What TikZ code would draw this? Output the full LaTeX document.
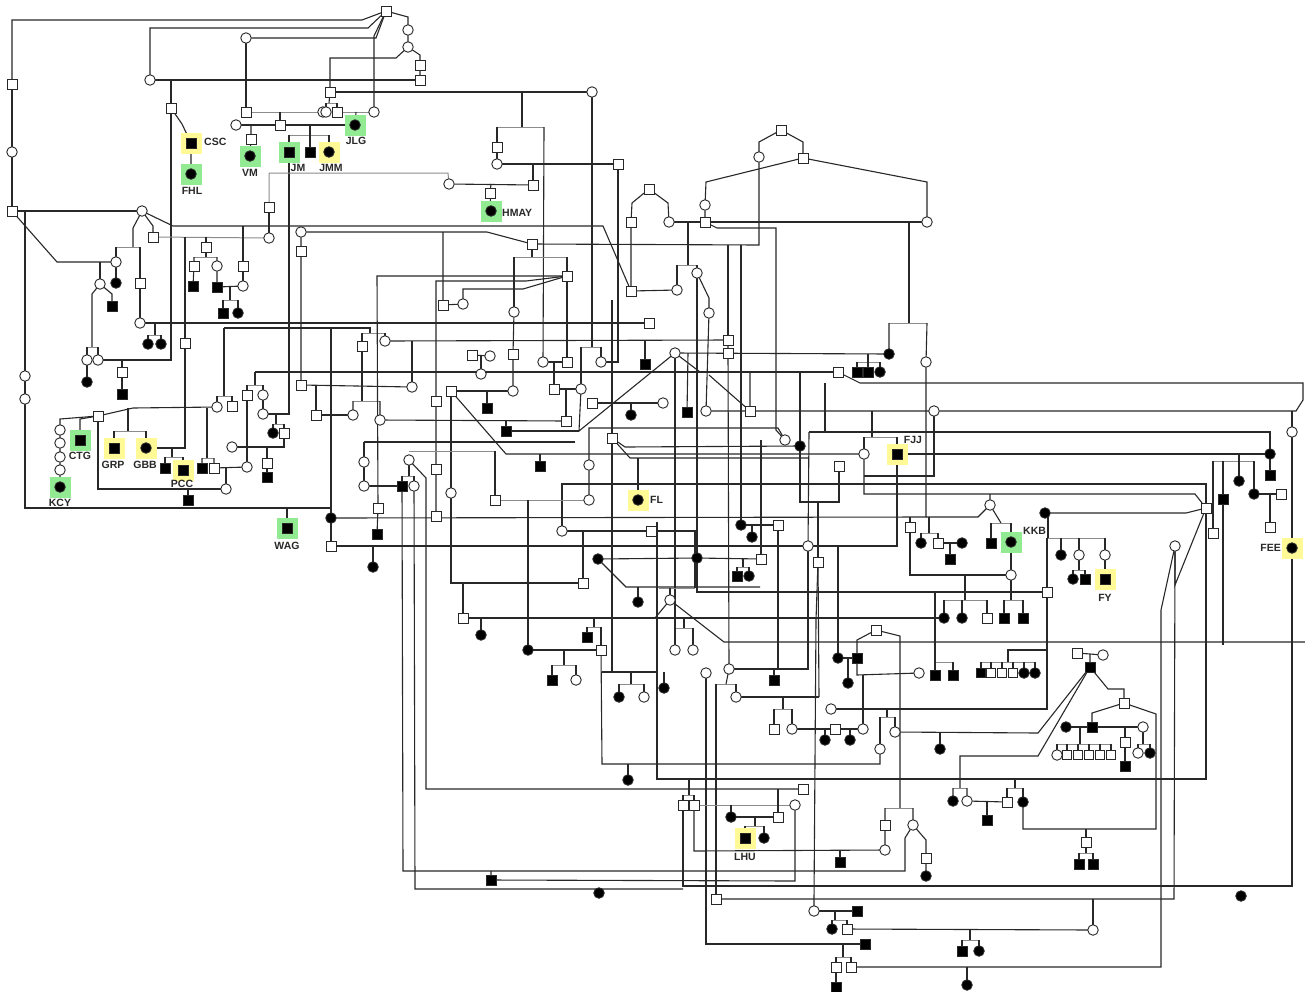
\documentclass[tikz,border=0pt]{standalone}
\usepackage{fontspec}
\newfontfamily\labfont{Liberation Sans}
\pgfdeclarelayer{back}
\pgfdeclarelayer{bg}
\pgfsetlayers{back,bg,main}
\definecolor{hly}{RGB}{255,249,150}
\definecolor{hlg}{RGB}{146,235,146}
\definecolor{ink}{RGB}{40,40,40}
\tikzset{
 ln/.style={line width=1.1pt, draw=ink},
 gl/.style={line width=1pt, draw=black!45},
 sym/.style={draw=ink, line width=0.9pt, fill=white, inner sep=0pt, outer sep=0pt},
 msq/.style={sym, rectangle, minimum size=10pt},
 msqa/.style={msq, fill=black},
 fci/.style={sym, circle, minimum size=10.5pt},
 fcia/.style={fci, fill=black},
 smsq/.style={msq, minimum size=9pt},
 hbox/.style={rectangle, minimum size=21pt, inner sep=0pt, draw=none},
 lbl/.style={font=\labfont\bfseries\fontsize{10.5}{12}\selectfont, text=ink, inner sep=0pt},
}
\newcommand\pM[3]{\node[msq] (#1) at (#2,#3) {};}
\newcommand\pMa[3]{\node[msqa] (#1) at (#2,#3) {};}
\newcommand\pF[3]{\node[fci] (#1) at (#2,#3) {};}
\newcommand\pFa[3]{\node[fcia] (#1) at (#2,#3) {};}
\newcommand\pHY[3]{\node[hbox,fill=hly] (h#1) at (#2,#3) {};}
\newcommand\pHG[3]{\node[hbox,fill=hlg] (h#1) at (#2,#3) {};}
\begin{document}
\begin{tikzpicture}[x=1pt,y=-1pt]
\useasboundingbox (0,0) rectangle (1305,991);
\begin{pgfonlayer}{back}
\fill[white] (0,0) rectangle (1305,991);
\end{pgfonlayer}
% ---------- highlight boxes ----------
\pHY{CSC}{191}{143} \pHG{FHL}{191}{174} \pHG{VM}{250}{156} \pHG{JM}{289}{152}
\pHY{JMM}{329}{152} \pHG{JLG}{355}{125} \pHG{HMAY}{491}{211} \pHG{KCY}{60}{487}
\pHG{CTG}{80}{440} \pHY{GRP}{114}{448} \pHY{GBB}{146}{448} \pHY{PCC}{183}{470}
\pHG{WAG}{287}{528} \pHY{FL}{638}{500} \pHY{FJJ}{897}{454} \pHG{KKB}{1011}{542}
\pHY{FY}{1105}{579} \pHY{FEE}{1292}{548} \pHY{LHU}{745}{838}
% ---------- individuals ----------
\pM{T0}{386}{11} \pF{f1}{408}{30} \pF{f2}{408}{47} \pM{s1}{420}{65} \pM{s2}{420}{80}
\pM{L1}{12}{84} \pF{L2}{12}{152} \pM{L3}{12}{211}
\pF{c150}{150}{80} \pF{c246}{246}{38} \pM{s171}{171}{108}
\pMa{CSC}{191}{143} \pFa{FHL}{191}{174}
\pM{s246}{246}{112} \pF{c323}{323}{112} \pF{c236}{236}{125} \pM{s280}{280}{125}
\pM{s251}{251}{139} \pFa{VM}{250}{156} \pMa{JM}{289}{152} \pMa{jm2}{310}{152} \pFa{JMM}{329}{152}
\pM{s330}{330}{92} \pF{c326}{326}{112} \pM{s337}{337}{112} \pF{c374}{374}{112} \pFa{JLG}{355}{125}
\pM{s269}{269}{207} \pF{c269}{269}{238} \pF{c142}{142}{211} \pM{s153}{153}{237}
\pF{c116}{116}{262} \pFa{fa116}{116}{283} \pM{s140}{140}{283} \pF{c100}{100}{284}
\pMa{ma112}{112}{306} \pF{c140}{140}{323}
\pM{s206}{206}{247} \pM{s194}{194}{266} \pF{c217}{217}{266} \pMa{ma193}{193}{286}
\pMa{ma217}{217}{287} \pM{s243}{243}{266} \pF{c243}{243}{286} \pMa{ma223}{223}{313} \pFa{fa238}{238}{313}
\pM{s185}{185}{343} \pFa{fa148}{148}{344} \pFa{fa161}{161}{344}
\pF{c87}{87}{360} \pF{c98}{98}{360} \pFa{fa87}{87}{382} \pM{s122}{122}{372} \pMa{ma122}{122}{394}
\pF{c25a}{25}{376} \pF{c25b}{25}{399}
\pF{c60a}{60}{430} \pF{c60b}{60}{443} \pF{c60c}{60}{457} \pF{c60d}{60}{470} \pFa{KCY}{60}{487}
\pM{s98}{98}{416} \pMa{CTG}{80}{440} \pMa{GRP}{114}{448} \pFa{GBB}{146}{448}
\pMa{ma165}{165}{468} \pMa{PCC}{183}{470} \pMa{ma188}{188}{500}
\pMa{ma202}{202}{468} \pM{s214}{214}{468} \pF{c247}{247}{467} \pF{c226}{226}{489}
\pF{c217b}{217}{407} \pM{s232}{232}{406} \pM{s247}{247}{395} \pF{c263a}{263}{395} \pF{c263b}{263}{414}
\pFa{fa273}{273}{433} \pM{s284}{284}{433} \pF{c232}{232}{447} \pM{s267}{267}{463} \pMa{ma267}{267}{477}
\pM{s301}{301}{385} \pM{s316}{316}{415} \pF{c301}{301}{232} \pM{s301b}{301}{251}
\pMa{WAG}{287}{528}
% top middle
\pF{c592}{592}{92} \pM{s497}{497}{147} \pF{c497}{497}{164} \pM{s618}{618}{164}
\pF{c449}{449}{184} \pM{s533}{533}{185} \pM{s490}{490}{193} \pFa{HMAY}{491}{211}
\pM{s649}{649}{189} \pM{s631}{631}{222} \pM{s532}{532}{244} \pM{s567}{567}{276}
\pM{s443}{443}{305} \pF{c463}{463}{304} \pF{c514}{514}{312} \pM{s631b}{631}{291} \pM{s649b}{649}{323}
% top right
\pM{s781}{781}{130} \pF{c759}{759}{157} \pM{s803}{803}{158} \pF{c705}{705}{205} \pM{s705}{705}{222}
\pF{c669}{669}{222} \pF{c927}{927}{222} \pF{c697}{697}{273} \pF{c677}{677}{290} \pF{c709}{709}{313}
% centre
\pM{s728a}{728}{340} \pM{s728b}{728}{353} \pF{c675}{675}{353} \pFa{fa889}{889}{354} \pF{c926}{926}{362}
\pM{s838}{838}{372} \pMa{ma857}{857}{372} \pMa{ma868}{868}{372} \pFa{fa880}{880}{372}
\pF{c663}{663}{403} \pMa{ma687}{687}{412} \pF{c706}{706}{411} \pM{s750}{750}{411} \pF{c934}{934}{411}
\pF{c785}{785}{440} \pFa{fa800}{800}{446} \pMa{FJJ}{897}{454} \pF{c864}{864}{454} \pM{s839}{839}{466}
\pFa{fa741}{741}{525} \pFa{fa752}{752}{537} \pM{s778}{778}{525} \pF{c808}{808}{546} \pM{s818}{818}{562}
\pFa{fa697}{697}{558} \pM{s761}{761}{559} \pMa{ma737}{737}{576} \pFa{fa749}{749}{576}
\pM{s910}{910}{527} \pFa{fa921}{921}{543} \pM{s938}{938}{543} \pFa{fa962}{962}{543} \pMa{ma950}{950}{559}
\pF{c670}{670}{600} \pFa{fa944}{944}{618} \pFa{fa962b}{962}{618} \pF{c675b}{675}{650} \pF{c693}{693}{650}
\pM{s876}{876}{630} \pFa{fa838}{838}{658} \pMa{ma857b}{857}{658}
\pM{s362}{362}{346} \pF{c385}{385}{341} \pM{s472}{472}{355} \pF{c490}{490}{356} \pF{c481}{481}{374}
\pM{s513}{513}{354} \pF{c543}{543}{362} \pM{s567b}{567}{362} \pF{c601}{601}{362} \pMa{ma645}{645}{364}
\pF{c412}{412}{387} \pM{s451}{451}{391} \pF{c513}{513}{391} \pM{s554}{554}{389} \pF{c581}{581}{389}
\pMa{ma487}{487}{408} \pM{s436}{436}{401} \pM{s592}{592}{403} \pFa{fa631}{631}{415}
\pF{c353}{353}{415} \pF{c380}{380}{420} \pM{s566}{566}{421} \pMa{ma506}{506}{431} \pMa{ma540}{540}{466}
\pM{s612}{612}{438} \pF{c364a}{364}{462} \pF{c409}{409}{460} \pM{s436b}{436}{469} \pF{c589a}{589}{465}
\pF{c364b}{364}{486} \pMa{ma402}{402}{486} \pF{c414}{414}{486} \pF{c451}{451}{493}
\pFa{FL}{638}{500} \pM{s495}{495}{500} \pF{c589b}{589}{500} \pM{s378}{378}{508} \pFa{fa331}{331}{518}
\pM{s436c}{436}{516} \pMa{ma377}{377}{534} \pM{s331}{331}{546} \pFa{fa373}{373}{567}
\pF{c562}{562}{531} \pM{s651}{651}{531} \pFa{fa598}{598}{559} \pM{s583}{583}{583} \pFa{fa638}{638}{602}
\pM{s463}{463}{618} \pFa{fa481}{481}{635} \pMa{ma587}{587}{637} \pFa{fa528}{528}{650} \pM{s601}{601}{650}
% right
\pF{c1292}{1292}{432} \pFa{FEE}{1292}{548} \pFa{fa1270}{1270}{454} \pMa{ma1270}{1270}{475}
\pFa{fa1239}{1239}{481} \pFa{fa1254}{1254}{494} \pM{s1281}{1281}{494} \pM{s1270}{1270}{527}
\pMa{ma1223}{1223}{499} \pM{s1213}{1213}{533} \pM{s1206}{1206}{508}
\pF{c990}{990}{505} \pMa{ma991}{991}{543} \pFa{KKB}{1011}{542} \pFa{fa1045}{1045}{513}
\pFa{fa1061}{1061}{555} \pF{c1079}{1079}{555} \pF{c1105}{1105}{555} \pFa{fa1073}{1073}{579}
\pMa{ma1085}{1085}{579} \pMa{FY}{1105}{579} \pF{c1011}{1011}{575} \pM{s1047}{1047}{592} \pF{c1175}{1175}{546}
\pM{s987}{987}{618} \pMa{ma1004}{1004}{618} \pMa{ma1023}{1023}{618} \pM{s1077}{1077}{653} \pF{c1103}{1103}{655}
% lower right
\node[smsq,fill=black] (r1) at (981,673) {}; \node[smsq] (r2) at (991,673) {}; \node[smsq] (r3) at (1002,673) {};
\node[smsq] (r4) at (1013,673) {}; \pFa{r5}{1024}{673} \pFa{r6}{1035}{673}
\pMa{ma1090}{1090}{667} \pM{s1124}{1124}{703} \pFa{fa1066}{1066}{727} \pMa{ma1092}{1092}{727} \pF{c1143}{1143}{727}
\pM{s1125}{1125}{742} \pMa{ma1125}{1125}{766} \pF{c1138}{1138}{753} \pFa{fa1150}{1150}{753}
\pF{c1057}{1057}{755} \node[smsq] (q1) at (1067,755) {}; \node[smsq] (q2) at (1078,755) {};
\node[smsq] (q3) at (1089,755) {}; \node[smsq] (q4) at (1100,755) {}; \node[smsq] (q5) at (1111,755) {};
\pM{s1007}{1007}{802} \pFa{fa1023}{1023}{802} \pMa{ma987}{987}{820} \pM{s1086}{1086}{842}
\pMa{ma1079}{1079}{864} \pMa{ma1093}{1093}{864} \pFa{fa1241}{1241}{896} \pF{c1093}{1093}{930}
% lower middle
\pF{c706b}{706}{673} \pF{c729}{729}{669} \pMa{ma774}{774}{680} \pF{c736}{736}{697} \pFa{fa664}{664}{688}
\pFa{fa848}{848}{683} \pF{c831}{831}{709} \pF{c919}{919}{673} \pMa{ma935}{935}{675} \pMa{ma953}{953}{675}
\pM{s774}{774}{729} \pF{c792}{792}{729} \pM{s835}{835}{729} \pFa{fa825}{825}{740} \pFa{fa850}{850}{740}
\pF{c863}{863}{729} \pF{c895}{895}{732} \pF{c880}{880}{749} \pFa{fa940}{940}{749}
\pM{s803b}{803}{789} \pM{s683}{683}{805} \pM{s694}{694}{805} \pF{c795}{795}{805}
\pFa{fa731}{731}{817} \pM{s778b}{778}{817} \pMa{LHU}{745}{838} \pFa{fa764}{764}{838}
\pM{s885}{885}{825} \pF{c913}{913}{825} \pF{c885}{885}{850} \pMa{ma840}{840}{862} \pM{s926}{926}{858} \pFa{fa926}{926}{876}
\pFa{fa953}{953}{801} \pF{c967}{967}{801} \pM{s716}{716}{899}
\pF{c814}{814}{911} \pMa{ma857c}{857}{911} \pFa{fa832}{832}{929} \pM{s847}{847}{929} \pMa{ma865}{865}{944}
\pM{s836}{836}{967} \pM{s851}{851}{967} \pMa{ma836}{836}{987} \pMa{ma962}{962}{951} \pFa{fa979}{979}{951} \pFa{fa967}{967}{985}
\pMa{ma552}{552}{680} \pF{c576}{576}{680} \pFa{fa619}{619}{697} \pF{c644}{644}{697} \pFa{fa628}{628}{780}
\pMa{ma491}{491}{880} \pFa{fa599}{599}{893}
% ---------- labels ----------
\node[lbl,anchor=west] (tCSC) at (204,142) {CSC};
\node[lbl] (tFHL) at (192,191) {FHL};
\node[lbl] (tVM) at (250,173) {VM};
\node[lbl] (tJM) at (298,168) {JM};
\node[lbl] (tJMM) at (331,168) {JMM};
\node[lbl] (tJLG) at (356,141) {JLG};
\node[lbl,anchor=west] (tHMAY) at (502,213) {HMAY};
\node[lbl] (tCTG) at (80,456) {CTG};
\node[lbl] (tGRP) at (113,465) {GRP};
\node[lbl] (tGBB) at (145,465) {GBB};
\node[lbl] (tPCC) at (182,484) {PCC};
\node[lbl] (tKCY) at (60,503) {KCY};
\node[lbl] (tWAG) at (287,546) {WAG};
\node[lbl,anchor=west] (tFL) at (650,500) {FL};
\node[lbl] (tFJJ) at (913,440) {FJJ};
\node[lbl,anchor=west] (tKKB) at (1023,531) {KKB};
\node[lbl] (tFY) at (1105,598) {FY};
\node[lbl,anchor=east] (tFEE) at (1281,548) {FEE};
\node[lbl] (tLHU) at (745,857) {LHU};
% ---------- connectors ----------
\begin{pgfonlayer}{bg}
\draw[ln] (L1) -- (12,20) -- (362,20) -- (T0);
\draw[ln] (L1) -- (L2) -- (L3);
\draw[ln] (c150) -- (150,28) -- (368,28) -- (T0);
\draw[ln] (c246) -- (376,38) -- (T0);
\draw[ln] (T0) -- (374,36) -- (c374);
\draw[ln] (T0) -- (408,17) -- (f1) -- (f2);
\draw[ln] (f2) -- (396,58) -- (330,58) -- (s330);
\draw[ln] (f2) -- (420,55) -- (s1) -- (s2);
\draw[ln] (c150) -- (s2);
\draw[ln] (171,80) -- (s171) -- (171,360) -- (c98);
\draw[ln] (s171) -- (182,124) -- (CSC) -- (FHL);
\draw[ln] (c246) -- (s246);
\draw[gl] (s246) -- (c323);
\draw[ln] (280,112) -- (s280);
\draw[ln] (c236) -- (JLG);
\draw[ln] (251,125) -- (s251) -- (VM);
\draw[ln] (310,125) -- (310,135);
\draw[gl] (289,135) -- (329,135);
\draw[ln] (289,135) -- (JM) (310,135) -- (jm2) (329,135) -- (JMM);
\draw[ln] (s330) -- (329,103);
\draw[gl] (326,103) -- (337,103);
\draw[ln] (326,103) -- (c326) (337,103) -- (s337);
\draw[gl] (s337) -- (c374);
\draw[ln] (356,112) -- (JLG);
\draw[ln] (s330) -- (c592);
\draw[ln] (JM) -- (289,414) -- (c263b);
\draw[gl] (s269) -- (269,173) -- (448,173) -- (c449);
\draw[ln] (s269) -- (c269);
\draw[gl] (s153) -- (c269);
\draw[ln] (L3) -- (c142);
\draw[ln] (c142) -- (173,226) -- (603,226) -- (s631b);
\draw[ln] (c142) -- (153,226) -- (s153);
\draw[ln] (L3) -- (57,262) -- (c116);
\draw[ln] (c142) -- (133,228) -- (133,247);
\draw[gl] (116,247) -- (140,247);
\draw[ln] (116,247) -- (c116) (140,247) -- (s140) -- (c140);
\draw[ln] (c116) -- (fa116);
\draw[ln] (100,262) -- (c100);
\draw[ln] (c100) -- (112,294) -- (ma112);
\draw[ln] (c100) -- (92,294) -- (92,347);
\draw[gl] (87,347) -- (98,347);
\draw[ln] (87,347) -- (c87) -- (fa87) (98,347) -- (c98);
\draw[ln] (122,360) -- (s122) -- (ma122);
\draw[ln] (c140) -- (s649b);
\draw[ln] (155,323) -- (155,335);
\draw[gl] (148,335) -- (161,335);
\draw[ln] (148,335) -- (fa148) (161,335) -- (fa161);
\draw[ln] (185,237) -- (s185) -- (185,448) -- (GBB);
\draw[ln] (206,237) -- (s206) -- (206,257);
\draw[gl] (194,257) -- (217,257);
\draw[ln] (194,257) -- (s194) -- (ma193) (217,257) -- (c217) -- (ma217) -- (c243);
\draw[ln] (243,226) -- (s243) -- (c243);
\draw[ln] (230,287) -- (230,300);
\draw[gl] (223,300) -- (238,300);
\draw[ln] (223,300) -- (ma223) (238,300) -- (fa238);
\draw[ln] (25,211) -- (c25a) -- (c25b) -- (25,508) -- (331,508) -- (fa331);
\draw[ln] (331,328) -- (fa331);
\draw[ln] (287,508) -- (WAG);
\draw[ln] (s98) -- (60,419) -- (c60a) -- (c60b) -- (c60c) -- (c60d) -- (KCY);
\draw[ln] (s98) -- (80,419) -- (CTG);
\draw[ln] (s98) -- (133,408) -- (c217b);
\draw[ln] (128,408) -- (128,431);
\draw[gl] (114,431) -- (146,431);
\draw[ln] (114,431) -- (GRP) (146,431) -- (GBB);
\draw[ln] (s98) -- (98,489) -- (c226);
\draw[ln] (207,408) -- (207,458);
\draw[gl] (202,458) -- (214,458);
\draw[ln] (202,458) -- (ma202) (214,458) -- (s214) -- (c247);
\draw[ln] (226,468) -- (c226);
\draw[ln] (172,448) -- (172,457);
\draw[gl] (165,457) -- (183,457);
\draw[ln] (165,457) -- (ma165) (183,457) -- (PCC);
\draw[ln] (188,489) -- (ma188);
\draw[ln] (224,328) -- (370,328) -- (370,333);
\draw[ln] (224,328) -- (224,396);
\draw[gl] (217,396) -- (232,396);
\draw[ln] (217,396) -- (c217b) (232,396) -- (s232);
\draw[gl] (362,333) -- (385,333);
\draw[ln] (362,333) -- (s362) (385,333) -- (c385);
\draw[ln] (255,372) -- (s838);
\draw[ln] (255,372) -- (255,385);
\draw[gl] (247,385) -- (263,385);
\draw[ln] (247,385) -- (s247) -- (c247) (263,385) -- (c263a) -- (c263b);
\draw[ln] (276,414) -- (276,424);
\draw[gl] (273,424) -- (284,424);
\draw[ln] (273,424) -- (fa273) (284,424) -- (s284) -- (284,447) -- (c232);
\draw[ln] (267,447) -- (s267) -- (ma267);
\draw[ln] (c301) -- (s301b) -- (s301) -- (c412);
\draw[ln] (c301) -- (487,232) -- (s532);
\draw[ln] (c385) -- (s728a);
\draw[ln] (412,341) -- (c412);
\draw[ln] (316,385) -- (s316) -- (c353);
\draw[ln] (s362) -- (362,401);
\draw[gl] (353,401) -- (380,401);
\draw[ln] (353,401) -- (c353) (380,401) -- (c380) -- (s566);
% top middle
\draw[ln] (522,92) -- (522,127);
\draw[gl] (497,127) -- (544,127);
\draw[ln] (497,127) -- (s497) -- (c497) -- (s618);
\draw[ln] (544,127) -- (c543);
\draw[ln] (c449) -- (s533);
\draw[ln] (533,164) -- (s533);
\draw[ln] (491,184) -- (s490) -- (HMAY);
\draw[ln] (c592) -- (592,347);
\draw[gl] (581,347) -- (601,347);
\draw[ln] (581,347) -- (c581) (601,347) -- (c601);
\draw[ln] (s618) -- (618,362) -- (c601);
\draw[ln] (s649) -- (632,203) -- (s631) -- (s631b) -- (c677);
\draw[ln] (s649) -- (668,203) -- (c669);
\draw[ln] (s532) -- (759,245) -- (c759);
\draw[ln] (728,245) -- (s728a);
\draw[ln] (s532) -- (532,257);
\draw[gl] (514,257) -- (567,257);
\draw[ln] (514,257) -- (c514) (567,257) -- (s567);
\draw[ln] (s567) -- (523,289) -- (463,289) -- (c463);
\draw[ln] (s567) -- (526,281) -- (436,281) -- (s436) -- (s436b) -- (s436c);
\draw[ln] (s567) -- (377,276) -- (s378) -- (ma377);
\draw[ln] (s567) -- (s567b);
\draw[ln] (443,232) -- (s443) -- (c463);
\draw[ln] (c514) -- (s513) -- (c513);
% top right
\draw[ln] (s781) -- (759,142) -- (c759);
\draw[ln] (s781) -- (803,142) -- (s803);
\draw[ln] (s803) -- (706,182) -- (c705) -- (s705);
\draw[ln] (s803) -- (927,182) -- (c927);
\draw[ln] (c669) -- (s705) -- (c927);
\draw[ln] (s705) -- (717,228) -- (776,228) -- (776,430) -- (c785);
\draw[ln] (688,222) -- (688,265);
\draw[gl] (677,265) -- (697,265);
\draw[ln] (677,265) -- (c677) (697,265) -- (c697) -- (fa697);
\draw[ln] (c697) -- (709,298) -- (c709) -- (c706);
\draw[ln] (909,222) -- (909,323);
\draw[gl] (889,323) -- (927,323);
\draw[ln] (889,323) -- (fa889) (927,323) -- (c926);
\draw[ln] (c675) -- (fa889);
\draw[ln] (s728a) -- (s728b) -- (c729);
\draw[ln] (c675) -- (579,431) -- (c581);
\draw[ln] (ma506) -- (579,431);
\draw[ln] (c675) -- (700,372) -- (750,372) -- (s750);
\draw[ln] (c675) -- (675,628);
\draw[ln] (688,353) -- (ma687);
\draw[ln] (c706) -- (c934) -- (1296,411) -- (1303,400) -- (1303,383) -- (860,383) -- (s838);
\draw[ln] (709,375) -- (s750);
\draw[ln] (s592) -- (c663);
\draw[ln] (868,354) -- (868,362);
\draw[gl] (857,362) -- (880,362);
\draw[ln] (857,362) -- (ma857) (868,362) -- (ma868) (880,362) -- (fa880);
\draw[ln] (fa331) -- (926,517) -- (c926);
\draw[ln] (926,517) -- (978,517) -- (c990);
\draw[ln] (809,432) -- (1270,432) -- (fa1270);
\draw[ln] (809,432) -- (c808);
\draw[ln] (c785) -- (778,428) -- (589,428) -- (c589a) -- (c589b);
\draw[ln] (825,383) -- (825,432);
\draw[ln] (800,372) -- (fa800) -- (800,502) -- (839,502) -- (s839);
\draw[ln] (818,502) -- (s818);
\draw[ln] (872,411) -- (872,437);
\draw[gl] (864,437) -- (897,437);
\draw[ln] (864,437) -- (c864) (897,437) -- (FJJ);
\draw[ln] (c934) -- (934,476) -- (864,476);
\draw[ln] (s451) -- (506,454) -- (c864);
\draw[ln] (FJJ) -- (fa1270);
\draw[ln] (c864) -- (864,494) -- (1195,494) -- (s1206);
\draw[ln] (FJJ) -- (897,546) -- (c808) -- (s331);
\draw[ln] (838,546) -- (fa838);
\draw[ln] (fa1045) -- (1186,513) -- (s1206);
\draw[ln] (c562) -- (562,484) -- (1206,484) -- (s1206);
\draw[ln] (910,517) -- (s910) -- (910,575) -- (c1011);
\draw[ln] (c1011) -- (1011,600);
\draw[gl] (1004,600) -- (1023,600);
\draw[ln] (1004,600) -- (ma1004) (1023,600) -- (ma1023);
\draw[ln] (965,575) -- (965,600);
\draw[gl] (944,600) -- (987,600);
\draw[ln] (944,600) -- (fa944) (962,600) -- (fa962b) (987,600) -- (s987);
\draw[ln] (929,517) -- (929,533);
\draw[gl] (921,533) -- (938,533);
\draw[ln] (921,533) -- (fa921) (938,533) -- (s938);
\draw[ln] (s938) -- (fa962) (950,543) -- (ma950);
\draw[ln] (990,494) -- (c990) -- (1001,523);
\draw[gl] (991,523) -- (1011,523);
\draw[ln] (991,523) -- (ma991) (1011,523) -- (KKB) -- (c1011);
\draw[ln] (1048,513) -- (1048,538);
\draw[gl] (1047,538) -- (1105,538);
\draw[ln] (1061,538) -- (fa1061) (1079,538) -- (c1079) (1105,538) -- (c1105) -- (FY);
\draw[ln] (1047,538) -- (s1047);
\draw[ln] (c1079) -- (1079,570);
\draw[gl] (1073,570) -- (1085,570);
\draw[ln] (1073,570) -- (fa1073) (1085,570) -- (ma1085);
\draw[ln] (fa697) -- (697,592) -- (s1047);
\draw[ln] (fa598) -- (fa697) -- (s761);
\draw[ln] (743,559) -- (743,567);
\draw[gl] (737,567) -- (749,567);
\draw[ln] (737,567) -- (ma737) (749,567) -- (fa749);
\draw[ln] (s1047) -- (1047,709) -- (c831);
\draw[ln] (c670) -- (724,642) -- (1305,642);
\draw[ln] (1239,454) -- (1239,461);
\draw[gl] (1213,461) -- (1254,461);
\draw[ln] (1213,461) -- (s1213) (1223,461) -- (ma1223) (1239,461) -- (fa1239) (1254,461) -- (fa1254) -- (s1281);
\draw[ln] (1270,494) -- (s1270);
\draw[ln] (fa1270) -- (ma1270);
\draw[ln] (1292,411) -- (c1292) -- (FEE) -- (1292,886) -- (683,886) -- (s683);
\draw[ln] (ma1223) -- (1223,645);
\draw[ln] (s1206) -- (1206,779) -- (657,779) -- (657,522);
\draw[ln] (c1175) -- (1175,585) -- (s1206);
\draw[ln] (c1175) -- (1161,610) -- (1161,967) -- (s851);
\draw[ln] (c1175) -- (1174,899) -- (s716);
\draw[ln] (c1093) -- (1093,899);
\draw[ln] (s847) -- (c1093);
\draw[ln] (c814) -- (ma857c);
\draw[ln] (835,911) -- (835,920);
\draw[gl] (832,920) -- (847,920);
\draw[ln] (832,920) -- (fa832) (847,920) -- (s847);
\draw[ln] (c706b) -- (706,944) -- (ma865);
\draw[ln] (843,944) -- (843,957);
\draw[gl] (836,957) -- (851,957);
\draw[ln] (836,957) -- (s836) -- (ma836) (851,957) -- (s851);
\draw[ln] (970,929) -- (970,940);
\draw[gl] (962,940) -- (979,940);
\draw[ln] (962,940) -- (ma962) (979,940) -- (fa979);
\draw[ln] (967,967) -- (fa967);
\draw[ln] (s818) -- (816,620) -- (814,900) -- (c814);
\draw[ln] (s818) -- (819,697);
\draw[ln] (c808) -- (808,669) -- (c729);
\draw[gl] (716,684) -- (736,684);
\draw[ln] (c729) -- (726,684);
\draw[ln] (716,684) -- (s716) (736,684) -- (c736) -- (819,697);
\draw[ln] (774,669) -- (ma774);
\draw[ln] (783,697) -- (783,709);
\draw[gl] (774,709) -- (792,709);
\draw[ln] (774,709) -- (s774) (792,709) -- (c792) -- (s835) -- (c863);
\draw[ln] (825,729) -- (fa825) (850,729) -- (fa850);
\draw[ln] (fa838) -- (ma857b);
\draw[ln] (848,658) -- (fa848);
\draw[ln] (ma857b) -- (857,675) -- (c919);
\draw[ln] (863,675) -- (c863);
\draw[ln] (935,592) -- (935,662);
\draw[gl] (935,662) -- (953,662);
\draw[ln] (935,662) -- (ma935) (953,662) -- (ma953);
\draw[ln] (s876) -- (857,640) -- (ma857b);
\draw[ln] (s876) -- (900,636) -- (900,808);
\draw[ln] (887,709) -- (887,717);
\draw[gl] (880,717) -- (895,717);
\draw[ln] (880,717) -- (c880) (895,717) -- (c895);
\draw[ln] (c895) -- (1038,733) -- (ma1090);
\draw[ln] (940,733) -- (fa940);
\draw[ln] (c880) -- (880,764) -- (602,764) -- (s601);
\draw[ln] (628,764) -- (fa628);
\draw[ln] (960,788) -- (960,756) -- (1038,756) -- (ma1090);
\draw[gl] (953,788) -- (967,788);
\draw[ln] (953,788) -- (fa953) (967,788) -- (c967) -- (s1007);
\draw[ln] (987,802) -- (ma987);
\draw[ln] (1015,779) -- (1015,788);
\draw[gl] (1007,788) -- (1023,788);
\draw[ln] (1007,788) -- (s1007) (1023,788) -- (fa1023);
\draw[ln] (fa1023) -- (1023,829) -- (1156,829) -- (1156,714) -- (s1124);
\draw[ln] (1086,829) -- (s1086) -- (1086,853);
\draw[gl] (1079,853) -- (1093,853);
\draw[ln] (1079,853) -- (ma1079) (1093,853) -- (ma1093);
\draw[ln] (s1077) -- (c1103);
\draw[ln] (1090,654) -- (ma1090) -- (1108,689) -- (1124,689) -- (s1124) -- (1092,713) -- (ma1092);
\draw[ln] (fa1066) -- (ma1092) -- (c1143);
\draw[ln] (1080,727) -- (1080,744);
\draw[gl] (1057,744) -- (1111,744);
\draw[ln] (1057,744) -- (c1057) (1067,744) -- (q1) (1078,744) -- (q2) (1089,744) -- (q3) (1100,744) -- (q4) (1111,744) -- (q5);
\draw[ln] (1125,727) -- (s1125) -- (ma1125);
\draw[ln] (c1143) -- (1143,744);
\draw[gl] (1138,744) -- (1150,744);
\draw[ln] (1138,744) -- (c1138) (1150,744) -- (fa1150);
\draw[gl] (981,662) -- (1035,662);
\draw[ln] (981,662) -- (r1) (991,662) -- (r2) (1002,662) -- (r3) (1013,662) -- (r4) (1024,662) -- (r5) (1035,662) -- (r6);
\draw[ln] (1008,662) -- (1008,650) -- (1047,650);
\draw[ln] (ma402) -- (403,871) -- (905,871) -- (905,838) -- (c913);
\draw[ln] (c409) -- (409,476);
\draw[gl] (402,476) -- (414,476);
\draw[ln] (402,476) -- (ma402) (414,476) -- (c414);
\draw[ln] (c409) -- (426,478) -- (426,789) -- (s803b);
\draw[ln] (c414) -- (415,889) -- (683,889);
\draw[ln] (599,889) -- (fa599);
\draw[ln] (491,871) -- (ma491) -- (795,881) -- (c795);
\draw[ln] (689,779) -- (689,795);
\draw[gl] (683,795) -- (694,795);
\draw[ln] (683,795) -- (s683) (694,795) -- (s694);
\draw[gl] (s694) -- (c795);
\draw[ln] (731,805) -- (fa731) -- (s778b);
\draw[ln] (778,789) -- (s778b);
\draw[ln] (755,817) -- (755,826);
\draw[gl] (745,826) -- (764,826);
\draw[ln] (745,826) -- (LHU) (764,826) -- (fa764);
\draw[ln] (s694) -- (694,851) -- (c885);
\draw[ln] (840,851) -- (ma840);
\draw[gl] (885,808) -- (913,808);
\draw[ln] (885,808) -- (s885) -- (c885) (913,808) -- (c913) -- (926,840) -- (s926) -- (fa926);
% centre-left
\draw[ln] (s472) -- (c490);
\draw[ln] (481,355) -- (c481);
\draw[ln] (c543) -- (s567b);
\draw[ln] (554,362) -- (s554) -- (c581);
\draw[ln] (566,389) -- (s566);
\draw[ln] (s451) -- (c513);
\draw[ln] (487,391) -- (ma487);
\draw[ln] (645,341) -- (ma645);
\draw[ln] (631,403) -- (fa631);
\draw[ln] (540,454) -- (ma540);
\draw[ln] (506,421) -- (ma506);
\draw[ln] (364,442) -- (575,442);
\draw[ln] (364,442) -- (c364a) -- (c364b) -- (ma402);
\draw[ln] (s451) -- (c451) -- (451,583) -- (s583);
\draw[gl] (409,451) -- (495,451);
\draw[ln] (495,451) -- (s495);
\draw[gl] (s495) -- (c589b);
\draw[ln] (528,500) -- (fa528);
\draw[ln] (c562) -- (s651) -- (695,531) -- (695,588);
\draw[ln] (583,531) -- (s583);
\draw[ln] (fa598) -- (626,587) -- (760,587);
\draw[ln] (638,587) -- (fa638);
\draw[ln] (463,583) -- (s463) -- (fa944);
\draw[ln] (481,618) -- (fa481);
\draw[ln] (594,618) -- (594,627);
\draw[gl] (587,627) -- (601,627);
\draw[ln] (587,627) -- (ma587) (601,627) -- (s601);
\draw[ln] (fa528) -- (s601);
\draw[ln] (564,650) -- (564,665);
\draw[gl] (552,665) -- (576,665);
\draw[ln] (552,665) -- (ma552) (576,665) -- (c576);
\draw[ln] (602,672) -- (657,672);
\draw[ln] (631,672) -- (631,684);
\draw[gl] (619,684) -- (644,684);
\draw[ln] (619,684) -- (fa619) (644,684) -- (c644);
\draw[ln] (664,672) -- (fa664);
\draw[ln] (612,300) -- (s612) -- (612,672);
\draw[ln] (s612) -- (625,447) -- (fa800);
\draw[ln] (s612) -- (630,458) -- (809,458);
\draw[ln] (638,458) -- (FL);
\draw[ln] (741,245) -- (fa741) -- (s778) -- (778,669);
\draw[ln] (752,525) -- (fa752);
\draw[ln] (s761) -- (761,440);
\draw[ln] (c670) -- (655,618);
\draw[gl] (659,588) -- (695,588);
\draw[ln] (670,588) -- (c670);
\draw[ln] (684,618) -- (684,628);
\draw[gl] (675,628) -- (693,628);
\draw[ln] (675,628) -- (c675b) (693,628) -- (c693);
\draw[ln] (373,546) -- (fa373);
\draw[ln] (fa331) -- (s331);
\end{pgfonlayer}
\end{tikzpicture}
\end{document}
